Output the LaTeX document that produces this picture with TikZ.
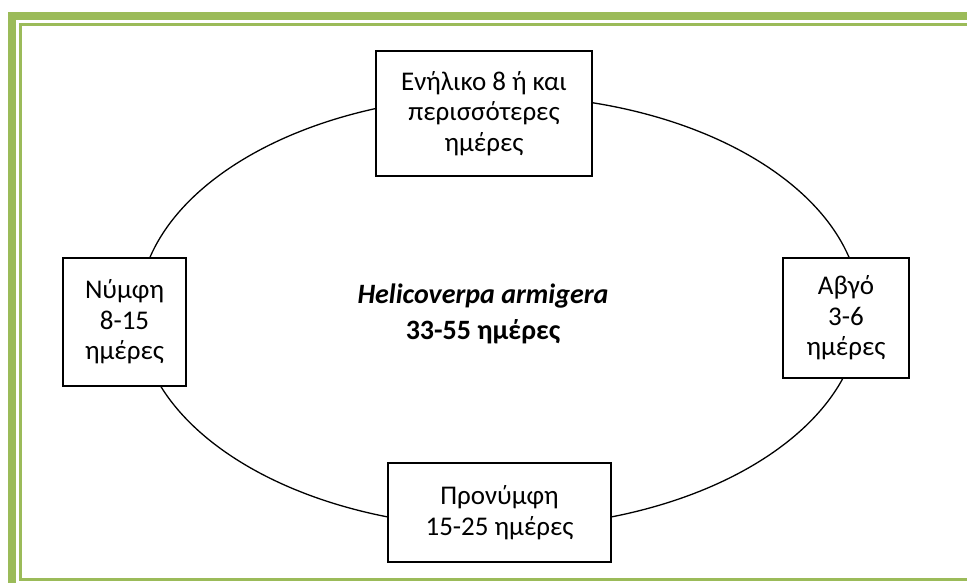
\documentclass[tikz,border=0pt]{standalone}
\usepackage{fontspec}
\setmainfont{Carlito}
\definecolor{framegreen}{HTML}{9BBB59}
\begin{document}
\begin{tikzpicture}[x=1pt,y=-1pt]
\tikzstyle{stage}=[draw,fill=white,line width=1.4pt,align=center,
inner sep=0pt,font=\fontsize{27}{30.5}\selectfont]
\useasboundingbox (0,0) rectangle (967,583);
\clip (0,0) rectangle (967,583);

% frame
\draw [framegreen,line width=8pt] (12,600) |- (1000,16.5);
\draw [framegreen,line width=3pt] (1000,579.5) -| (20.5,24.5) -- (1000,24.5);

% life cycle
\draw [line width=1.3pt] (499.5,311.5) ellipse [x radius=361, y radius=216];

\draw (484,113.5) node (adult) [stage,minimum width=216pt,minimum height=125pt]
{Ενήλικο 8 ή και\\περισσότερες\\ημέρες};
\draw (846,318) node (egg) [stage,minimum width=126pt,minimum height=120pt]
{Αβγό\\3-6\\ημέρες};
\draw (499.5,512.5) node (prepupa) [stage,minimum width=223pt,minimum height=99pt]
{Προνύμφη\\15-25 ημέρες};
\draw (124.5,322) node (pupa) [stage,minimum width=123pt,minimum height=128pt]
{Νύμφη\\8-15\\ημέρες};

\draw (483,314) node (species) [align=center,font=\fontsize{28}{36}\selectfont\bfseries]
{\textit{Helicoverpa armigera}\\33-55 ημέρες};
\end{tikzpicture}
\end{document}
